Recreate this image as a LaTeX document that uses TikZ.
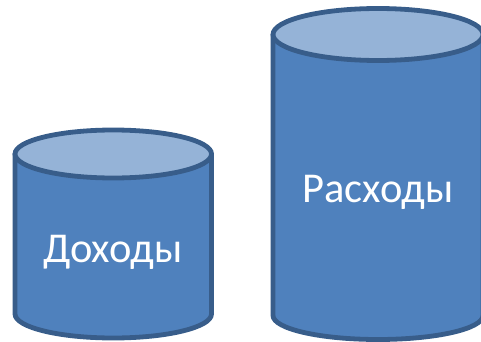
\documentclass[tikz,border=0pt]{standalone}
\usepackage{fontspec}
\setmainfont{Carlito}
\definecolor{cylfill}{HTML}{4F81BD}
\definecolor{cyltop}{HTML}{95B3D7}
\definecolor{cylline}{HTML}{385D8A}
\tikzset{
  cylbody/.style={fill=cylfill,draw=cylline,line width=4.8pt,line join=round},
  cyllid/.style={fill=cyltop,draw=cylline,line width=4.8pt},
  cyltext/.style={text=white,font=\fontsize{42.5pt}{48pt}\selectfont,inner sep=0pt}
}
\begin{document}
\begin{tikzpicture}[x=1pt,y=-1pt]
\useasboundingbox (0,0) rectangle (481,342);
\clip (0,0) rectangle (481,342);
\draw[cylbody] (15,154) -- (15,314) arc[start angle=180,end angle=360,x radius=98.25,y radius=-24] -- (211.5,154) -- cycle;
\draw[cyllid] (113.25,154) ellipse[x radius=98.25,y radius=24];
\node[cyltext] (dohody) at (113,252.5) {Доходы};
\draw[cylbody] (273,34.5) -- (273,315.5) arc[start angle=180,end angle=360,x radius=105,y radius=-24] -- (483,34.5) -- cycle;
\draw[cyllid] (378,34.5) ellipse[x radius=105,y radius=26];
\node[cyltext] (rashody) at (378,192.5) {Расходы};
\end{tikzpicture}
\end{document}
